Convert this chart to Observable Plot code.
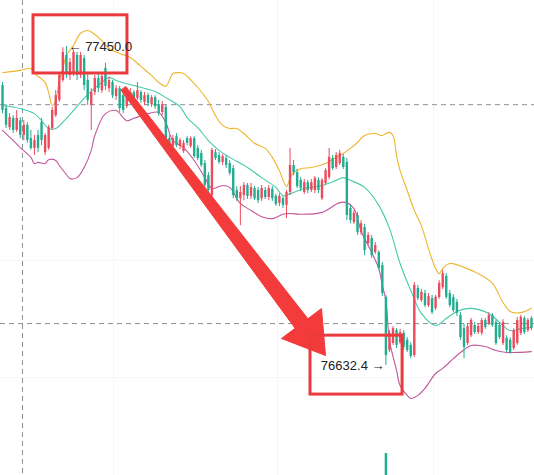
<!DOCTYPE html>
<html><head><meta charset="utf-8">
<script src="https://cdn.jsdelivr.net/npm/d3@7"></script>
<script src="https://cdn.jsdelivr.net/npm/@observablehq/plot@0.6"></script>
<style>html,body{margin:0;padding:0;background:#fff;overflow:hidden}</style>
</head><body><div id="chart"></div>
<script>
// Candle OHLC (price), one per bar index 0..149
const open = [
77350,77291,77242,77266,77235,77260,77222,77248,77214,77189,
77222,77255,77178,77189,77240,77273,77312,77363,77427,77376,
77383,77427,77376,77419,77363,77299,77332,77368,77337,77394,
77342,77358,77322,77342,77324,77296,77312,77332,77317,77332,
77307,77324,77301,77319,77301,77281,77294,77214,77194,77219,
77194,77181,77214,77194,77214,77189,77176,77150,77119,77068,
77178,77171,77153,77163,77150,77137,77081,77060,77068,77094,
77066,77086,77081,77060,77081,77063,77084,77066,77048,77060,
77043,77076,77145,77127,77107,77076,77101,77081,77081,77107,
77060,77099,77114,77163,77140,77150,77166,77153,77035,76999,
77017,76973,76986,76945,76958,76922,76922,76889,76807,76671,
76689,76722,76691,76715,76697,76684,76658,76830,76799,76817,
76786,76804,76779,76807,76832,76861,76817,76807,76794,76761,
76727,76689,76709,76735,76717,76715,76748,76740,76761,76743,
76735,76689,76702,76697,76676,76689,76715,76753,76722,76753];
const close = [
77286,77248,77268,77235,77266,77222,77248,77209,77189,77209,
77189,77209,77222,77242,77286,77324,77376,77435,77383,77409,
77435,77376,77427,77350,77312,77332,77368,77342,77373,77348,
77363,77324,77342,77291,77286,77322,77332,77312,77337,77312,
77324,77304,77319,77296,77278,77301,77209,77194,77214,77196,
77209,77202,77202,77214,77168,77163,77145,77094,77081,77184,
77163,77153,77168,77145,77125,77068,77060,77076,77094,77066,
77089,77060,77055,77086,77063,77086,77060,77045,77066,77043,
77076,77145,77127,77091,77086,77101,77081,77101,77112,77081,
77107,77132,77166,77137,77171,77176,77140,77017,77004,77022,
76973,76996,76927,76966,76914,76940,76881,76817,76658,76715,
76727,76684,76717,76679,76671,76656,76838,76804,76820,76786,
76809,76768,76807,76843,76868,76807,76786,76773,76766,76704,
76679,76732,76748,76717,76732,76748,76730,76761,76735,76689,
76704,76743,76671,76666,76722,76748,76756,76717,76748,76727];
const high = [
77358,77301,77278,77273,77286,77268,77260,77255,77235,77222,
77235,77266,77227,77248,77294,77337,77383,77447,77450,77419,
77440,77435,77435,77427,77381,77342,77376,77378,77383,77407,
77371,77363,77350,77348,77332,77330,77342,77337,77358,77337,
77332,77330,77324,77324,77312,77309,77299,77222,77222,77227,
77214,77209,77219,77219,77219,77196,77184,77158,77127,77189,
77186,77178,77173,77171,77158,77145,77091,77091,77101,77099,
77099,77091,77089,77094,77089,77094,77091,77071,77073,77066,
77081,77189,77158,77135,77114,77109,77107,77109,77117,77114,
77112,77137,77189,77171,77178,77184,77173,77163,77043,77030,
77025,77004,76994,76973,76966,76948,76927,76896,76812,76722,
76732,76727,76725,76722,76704,76691,76845,76838,76827,76825,
76817,76812,76812,76850,76876,76868,76825,76814,76802,76768,
76738,76740,76753,76743,76740,76753,76753,76768,76766,76748,
76743,76750,76709,76704,76727,76756,76761,76758,76753,76758];
const low = [
77278,77240,77235,77227,77230,77214,77209,77202,77184,77171,
77178,77196,77171,77184,77235,77268,77307,77358,77368,77363,
77373,77363,77368,77337,77299,77235,77324,77332,77330,77337,
77332,77317,77312,77281,77278,77291,77304,77304,77312,77304,
77299,77296,77294,77289,77271,77273,77202,77186,77189,77191,
77186,77176,77196,77189,77163,77158,77140,77089,77073,77063,
77158,77148,77145,77137,77119,77060,77053,76991,77055,77058,
77058,77055,77048,77053,77058,77055,77053,77040,77040,77035,
77009,77068,77119,77086,77078,77071,77073,77076,77073,77073,
77055,77094,77109,77132,77135,77145,77135,77004,76996,76994,
76966,76966,76914,76940,76907,76917,76876,76809,76632.4,76666,
76684,76676,76686,76671,76666,76650,76653,76799,76794,76781,
76781,76763,76773,76802,76827,76802,76781,76768,76758,76697,
76650,76684,76704,76712,76712,76709,76725,76735,76730,76684,
76699,76684,76666,76661,76671,76684,76709,76712,76717,76722];

// Bollinger bands read at sampled bar indices
const upperX = [0,5,8,9,12,13,14,15,16,17,18,20,22,24,26,28,30,33,36,39,42,44,46,47,48,50,51,55,58,60,62,64,66,68,71,74,76,78,80,81,82,84,87,91,94,96,98,100,102,105,107,108,109,110,111,112,114,116,118,120,122,123,124,126,130,134,138,141,143,146,149];
const upperY = [77383,77389,77394,77381,77358,77332,77299,77312,77363,77394,77427,77453,77484,77491,77481,77465,77445,77432,77422,77399,77376,77358,77348,77363,77381,77383,77381,77345,77309,77273,77248,77240,77240,77227,77202,77189,77166,77132,77091,77112,77127,77137,77140,77150,77166,77176,77189,77204,77222,77227,77222,77227,77230,77222,77171,77132,77081,77030,76991,76932,76881,76868,76881,76894,76884,76868,76843,76794,76771,76768,76779];
const middleX = [0,5,9,11,13,15,18,22,24,28,30,32,37,43,46,50,52,55,58,61,64,69,73,77,79,81,85,90,94,96,98,102,106,109,112,115,118,122,125,128,132,137,140,143,146,149];
const middleY = [77299,77291,77278,77260,77240,77240,77266,77307,77327,77358,77371,77363,77350,77335,77319,77296,77268,77242,77209,77184,77166,77140,77114,77089,77068,77073,77086,77094,77107,77114,77107,77089,77043,76984,76894,76825,76766,76735,76753,76771,76779,76766,76743,76722,76727,76730];
const lowerX = [0,3,5,8,9,10,12,13,15,16,18,19,21,23,25,26,29,32,35,37,41,44,46,48,51,54,57,59,62,64,67,70,73,76,79,81,84,90,95,97,99,101,104,106,107,108,109,111,112,114,115,117,119,122,124,127,130,132,136,139,142,149];
const lowerY = [77235,77209,77191,77166,77150,77153,77150,77160,77158,77145,77122,77112,77114,77140,77184,77222,77278,77286,77260,77266,77278,77281,77255,77209,77191,77158,77114,77086,77094,77089,77048,77030,77014,77009,77020,77022,77020,77025,77050,77050,77035,76978,76922,76881,76838,76799,76697,76620,76581,76556,76548,76556,76574,76612,76625,76650,76673,76684,76681,76671,76666,76668];

// Reference lines: last-price / crosshair lines
const priceLines = [77301, 76740];
const crossIdx = [5.63];
const gridIdx = [31.3, 77.5, 121.4];
const gridPrices = [76902, 76602];

// Volume bar visible at bottom (the big drop bar)
const volIdx = [108];
const volTop = [76407];

// Annotations
const boxX1 = [8.73, 86.76], boxX2 = [35.2, 112.7];
const boxY1 = [77530, 76709], boxY2 = [77381, 76558];
const arrowX = [34.76, 86.03, 89.86, 90.99, 78.59, 82.42, 33.41];
const arrowY = [77347, 76752.5, 76778.6, 76658.1, 76701.7, 76727.8, 77337.8];
const highLabel = ["← 77450.0"], highLabelX = [18.6], highLabelY = [77450];
const lowLabel = ["76632.4 →"], lowLabelX = [107.6], lowLabelY = [76632.4];

const candles = open.map((o, i) => ({i, o, c: close[i], h: high[i], l: low[i], up: close[i] >= o}));
const pts = (xs, ys) => xs.map((x, k) => ({x, y: ys[k]}));
const upper = pts(upperX, upperY), middle = pts(middleX, middleY), lower = pts(lowerX, lowerY);
const arrowPoly = pts(arrowX, arrowY);
const boxes = boxX1.map((x, k) => ({x1: x, x2: boxX2[k], y1: boxY1[k], y2: boxY2[k]}));
const hiL = highLabel.map((t, k) => ({t, x: highLabelX[k], y: highLabelY[k]}));
const loL = lowLabel.map((t, k) => ({t, x: lowLabelX[k], y: lowLabelY[k]}));
const RED = "#ec4b5d", GREEN = "#20ad90";

const chart = Plot.plot({
  width: 534, height: 475,
  marginTop: 0, marginRight: 0, marginBottom: 0, marginLeft: 0,
  x: {domain: [0, 149], range: [2, 530.95], axis: null},
  y: {domain: [76350.6, 77568], range: [475, 0], axis: null},
  style: {background: "#ffffff", fontFamily: "'Liberation Sans', Arial, sans-serif", overflow: "visible"},
  marks: [
    Plot.ruleX(gridIdx, {stroke: "#f3f5f8", strokeWidth: 1}),
    Plot.ruleY(gridPrices, {stroke: "#f4f6f8", strokeWidth: 1}),
    Plot.ruleY(priceLines, {stroke: "#8a8f99", strokeDasharray: "5,4", strokeWidth: 1}),
    Plot.ruleX(crossIdx, {stroke: "#8a8f99", strokeDasharray: "5,4", strokeWidth: 1}),
    Plot.line(upper, {x: "x", y: "y", stroke: "#efb52e", strokeWidth: 1.1, curve: "catmull-rom"}),
    Plot.line(middle, {x: "x", y: "y", stroke: "#45c9aa", strokeWidth: 1.1, curve: "catmull-rom"}),
    Plot.line(lower, {x: "x", y: "y", stroke: "#c2579b", strokeWidth: 1.1, curve: "catmull-rom"}),
    Plot.ruleX(candles, {x: "i", y1: "l", y2: "h", stroke: d => d.up ? RED : GREEN, strokeWidth: 1}),
    Plot.ruleX(candles, {x: "i", y1: "o", y2: "c", stroke: d => d.up ? RED : GREEN, strokeWidth: 2.4}),
    Plot.ruleX(volIdx, {x: d => d, y1: 76350.6, y2: (d, k) => volTop[k], stroke: GREEN, strokeWidth: 2.4}),
    Plot.line(arrowPoly, {x: "x", y: "y", fill: "#f33b3b", stroke: "#f33b3b", strokeWidth: 1, curve: "linear-closed"}),
    Plot.rect(boxes, {x1: "x1", x2: "x2", y1: "y1", y2: "y2", fill: "none", stroke: "#eb3a3e", strokeWidth: 3}),
    Plot.text(hiL, {x: "x", y: "y", text: "t", textAnchor: "start", fontSize: 13, fill: "#222"}),
    Plot.text(loL, {x: "x", y: "y", text: "t", textAnchor: "end", fontSize: 13, fill: "#222"})
  ]
});
document.getElementById("chart").appendChild(chart);
</script>
</body></html>
